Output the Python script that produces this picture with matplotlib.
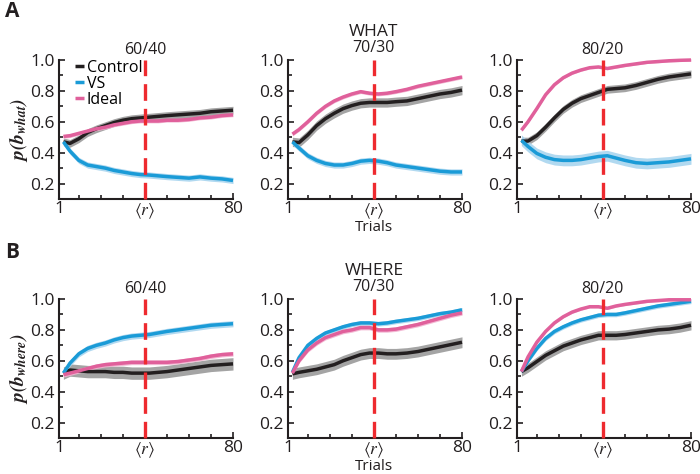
import numpy as np
import matplotlib
matplotlib.use('Agg')
import matplotlib.pyplot as plt

plt.rcParams['font.family'] = ['Open Sans', 'DejaVu Sans']
plt.rcParams['mathtext.fontset'] = 'stix'

trials = [3, 6, 10, 14, 18, 22, 26, 30, 34, 38, 42, 46, 50, 55, 60, 65, 70, 75, 80]

# --- WHAT (row A) ---
what_ctrl = {
    '60/40': [.47, .46, .49, .53, .555, .575, .595, .61, .62, .625, .63, .635, .64, .645, .65, .655, .665, .67, .675],
    '70/30': [.47, .465, .515, .575, .62, .655, .685, .705, .72, .725, .725, .725, .73, .735, .75, .765, .78, .79, .805],
    '80/20': [.475, .475, .51, .565, .625, .68, .72, .75, .77, .79, .81, .815, .82, .835, .855, .875, .89, .90, .91],
}
what_vs = {
    '60/40': [.47, .41, .35, .32, .31, .30, .285, .275, .265, .258, .255, .25, .245, .24, .235, .243, .235, .23, .22],
    '70/30': [.47, .43, .38, .35, .33, .32, .32, .33, .345, .35, .345, .335, .32, .31, .30, .29, .28, .275, .275],
    '80/20': [.48, .44, .395, .37, .355, .35, .35, .355, .365, .375, .38, .365, .35, .335, .33, .335, .34, .35, .36],
}
what_ideal = {
    '60/40': [.505, .51, .525, .54, .555, .565, .58, .59, .60, .605, .605, .605, .61, .61, .615, .625, .63, .64, .645],
    '70/30': [.52, .55, .60, .655, .70, .735, .76, .78, .795, .785, .78, .785, .795, .81, .83, .845, .86, .875, .89],
    '80/20': [.545, .60, .685, .775, .84, .885, .915, .935, .95, .955, .945, .955, .965, .975, .985, .99, .995, .998, 1.0],
}

# --- WHERE (row B) ---
where_ctrl = {
    '60/40': [.52, .54, .535, .53, .53, .53, .525, .525, .52, .52, .52, .525, .53, .54, .55, .56, .57, .575, .58],
    '70/30': [.515, .525, .535, .545, .56, .575, .60, .62, .64, .65, .65, .645, .645, .65, .66, .675, .69, .705, .72],
    '80/20': [.53, .555, .595, .635, .665, .695, .715, .735, .75, .765, .765, .765, .77, .78, .79, .80, .805, .815, .83],
}
where_vs = {
    '60/40': [.52, .585, .645, .68, .70, .715, .735, .75, .76, .765, .77, .78, .79, .80, .81, .82, .83, .835, .84],
    '70/30': [.525, .62, .70, .745, .78, .80, .82, .835, .845, .845, .84, .845, .855, .865, .875, .89, .905, .915, .93],
    '80/20': [.53, .60, .68, .745, .79, .82, .845, .865, .88, .895, .90, .90, .91, .925, .94, .955, .965, .975, .985],
}
where_ideal = {
    '60/40': [.51, .52, .535, .55, .565, .575, .58, .585, .59, .59, .59, .59, .59, .595, .605, .615, .63, .64, .645],
    '70/30': [.52, .60, .67, .715, .75, .77, .79, .80, .815, .815, .80, .80, .805, .82, .835, .855, .875, .895, .91],
    '80/20': [.53, .625, .72, .79, .845, .885, .915, .935, .95, .95, .94, .955, .965, .975, .985, .99, .995, .995, .995],
}

# half-width of shaded bands
sem_what = {'ctrl': [.025, .03, .025], 'vs': [.02, .02, .035], 'ideal': [.012, .012, .008]}
sem_where = {'ctrl': [.04, .035, .03], 'vs': [.02, .015, .015], 'ideal': [.015, .015, .008]}

ratios = ['60/40', '70/30', '80/20']
r_mean = 40

c_ctrl, c_vs, c_ideal = '#231f20', '#1a9bd7', '#e0609b'
b_ctrl, b_vs, b_ideal = '#9a9a9a', '#a9d5ef', '#f2b3d0'
dark = '#231f20'

fig = plt.figure(figsize=(7, 4.74), dpi=100)

lefts = [59/700, 288/700, 517/700]
w = 174/700
h = 139/474
bottoms = [1 - 199/474, 1 - 438/474]


def panel(ax, ctrl, vs, ideal, sems):
    x = np.array(trials)
    for ys, s, bc in [(ctrl, sems[0], b_ctrl), (vs, sems[1], b_vs), (ideal, sems[2], b_ideal)]:
        ys = np.array(ys)
        ax.fill_between(x, ys - s, ys + s, color=bc, lw=0, alpha=0.9, clip_on=False)
    for ys, c, lab in [(ctrl, c_ctrl, 'Control'), (vs, c_vs, 'VS'), (ideal, c_ideal, 'Ideal')]:
        ax.plot(x, ys, color=c, lw=2.5, label=lab, clip_on=False, solid_capstyle='butt')
    ax.axvline(r_mean, color='#ee2a2f', lw=2.4, dashes=(5, 2.4), zorder=5, clip_on=False)
    ax.set_xlim(1, 80)
    ax.set_ylim(0.1, 1.0)
    ax.set_xticks([1, r_mean, 80])
    ax.set_xticklabels(['1', r'$\langle r\rangle$', '80'])
    ax.set_xticks([10, 20, 30, 50, 60, 70], minor=True)
    ax.set_yticks([0.2, 0.4, 0.6, 0.8, 1.0])
    ax.set_yticklabels(['0.2', '0.4', '0.6', '0.8', '1.0'])
    ax.set_yticks([0.3, 0.5, 0.7, 0.9], minor=True)
    ax.tick_params(which='both', direction='in', color=dark, labelcolor=dark, width=1.2, labelsize=12.5, pad=3)
    ax.tick_params(axis='x', pad=1.5)
    ax.tick_params(which='major', length=4)
    ax.tick_params(which='minor', length=3)
    for sp in ['top', 'right']:
        ax.spines[sp].set_visible(False)
    for sp in ['left', 'bottom']:
        ax.spines[sp].set_color(dark)
        ax.spines[sp].set_linewidth(1.5)


rows = [(what_ctrl, what_vs, what_ideal, sem_what, 'WHAT', r'$\mathbfit{p(b_{what})}$'),
        (where_ctrl, where_vs, where_ideal, sem_where, 'WHERE', r'$\mathbfit{p(b_{where})}$')]

for ri, (ctrl, vs, ideal, sems, name, ylab) in enumerate(rows):
    for ci, ratio in enumerate(ratios):
        ax = fig.add_axes([lefts[ci], bottoms[ri], w, h])
        panel(ax, ctrl[ratio], vs[ratio], ideal[ratio],
              [sems['ctrl'][ci], sems['vs'][ci], sems['ideal'][ci]])
        ty = 1.075 if ci != 1 else 1.085
        ax.text(r_mean, ty, ratio, transform=ax.get_xaxis_transform(),
                ha='center', va='center', fontsize=11.5, color=dark)
        if ci == 1:
            ax.text(r_mean, 1.2, name, transform=ax.get_xaxis_transform(),
                    ha='center', va='center', fontsize=12.5, color=dark)
            ax.text(r_mean, -0.15, 'Trials', transform=ax.get_xaxis_transform(),
                    ha='center', va='top', fontsize=11, color=dark)
        if ci == 0:
            ax.set_ylabel(ylab, fontsize=14, color=dark, labelpad=0)
            if ri == 0:
                leg = ax.legend(loc='upper left', bbox_to_anchor=(0.09, 1.0), frameon=False,
                                fontsize=11.5, handlelength=0.6, handletextpad=0.15,
                                labelspacing=0.0, borderpad=0, borderaxespad=0)
                for ln in leg.get_lines():
                    ln.set_linewidth(2.5)

fig.text(0.007, 0.975, 'A', fontsize=15, fontweight='bold', va='center', color=dark)
fig.text(0.007, 1 - 252/474, 'B', fontsize=15, fontweight='bold', va='center', color=dark)

fig.savefig('out.png', dpi=100)
